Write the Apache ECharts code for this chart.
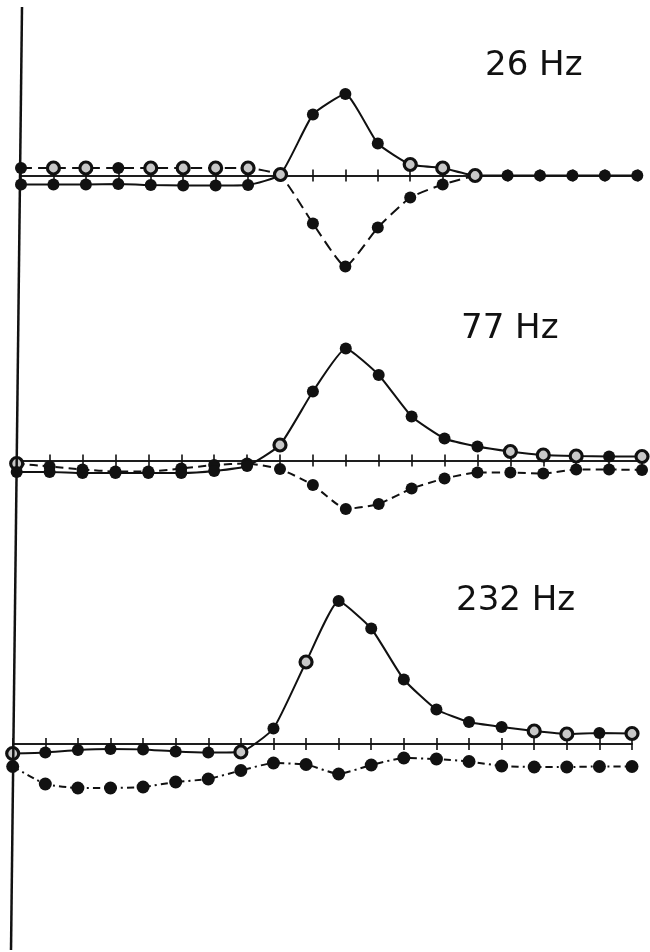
<!DOCTYPE html>
<html>
<head>
<meta charset="utf-8">
<script src="https://cdn.jsdelivr.net/npm/echarts@6/dist/echarts.min.js"></script>
<style>html,body{margin:0;padding:0;background:#fff}#c{width:650px;height:952px}</style>
</head>
<body>
<div id="c"></div>
<script>
// ---- data ----
const categories = ['1','2','3','4','5','6','7','8','9','10','11','12','13','14','15','16','17','18','19','20'];
const panelLabels = ['26 Hz', '77 Hz', '232 Hz'];

const solid26  = [-9, -9, -9, -8.5, -9.5, -10, -10, -9.5, 1, 61, 81.5, 32, 11, 7.5, 0, 0, 0, 0, 0, 0];
const dashed26 = [7.5, 7.5, 7.5, 7.5, 7.5, 7.5, 7.5, 7.5, 0, -48, -91, -52, -22, -9, 0, null, null, null, null, null];

const solid77  = [-11.5, -11.5, -12.5, -12.5, -12.5, -12.5, -10.5, -5.5, 15.5, 69, 112, 85.5, 44, 22, 14, 9, 5.5, 4.5, 4, 4];
const dashed77 = [-3, -6, -9, -11, -11, -8, -4.5, -3, -8.5, -24.5, -48.5, -43.5, -28, -18, -12, -12, -13, -9, -9, -9.5];

const solid232  = [-9.5, -8.5, -6, -5, -5.5, -7.5, -8.5, -8, 15.5, 82, 143, 115.5, 64.5, 34.5, 22, 17, 13, 10, 11, 10.5];
const dashed232 = [-22.5, -40, -44, -44, -43, -38, -35, -26.5, -19, -20.5, -30, -21, -14, -15, -17.5, -22, -23, -23, -22.5, -22.5];

// ---- styling / layout (not data) ----
const panels = [
  {solid: solid26,  dashed: dashed26,  baseline: 175.5, left: 21,   right: 12.7, label: {x: 485, y: 70.5}, dash: [11, 6], dashedSize: 12,
   openSolid: [8, 12, 13, 14], openDashed: [1, 2, 4, 5, 6, 7]},
  {solid: solid77,  dashed: dashed77,  baseline: 460.5, left: 16.7, right: 8,    label: {x: 461, y: 333.5}, dash: [8, 5], dashedSize: 12,
   openSolid: [8, 15, 16, 17, 19], openDashed: [0]},
  {solid: solid232, dashed: dashed232, baseline: 744,   left: 12.7, right: 18,   label: {x: 456, y: 605.5}, dash: [7, 4, 2, 4], dashedSize: 13,
   openSolid: [0, 7, 9, 16, 17, 19], openDashed: []}
];
const Y_MIN = -120, Y_MAX = 160;

function styled(values, openIdx) {
  return values.map((v, i) => {
    if (v === null) return '-';
    if (openIdx.indexOf(i) >= 0) {
      return {value: v, itemStyle: {color: '#c8c8c8', borderColor: '#111', borderWidth: 3.2}};
    }
    return v;
  });
}

const grid = [], xAxis = [], yAxis = [], series = [], graphic = [];
panels.forEach((p, k) => {
  grid.push({left: p.left, right: p.right, top: p.baseline - Y_MAX, height: Y_MAX - Y_MIN, containLabel: false});
  // two identical hidden y axes, so that both x axes can sit on zero
  yAxis.push({type: 'value', gridIndex: k, min: Y_MIN, max: Y_MAX, show: false, splitLine: {show: false}});
  yAxis.push({type: 'value', gridIndex: k, min: Y_MIN, max: Y_MAX, show: false, splitLine: {show: false}});
  ['bottom', 'top'].forEach((pos, j) => {
    xAxis.push({
      type: 'category', gridIndex: k, position: pos, data: categories, boundaryGap: false,
      axisLine: {show: true, onZero: true, onZeroAxisIndex: 2 * k + j, lineStyle: {color: '#111', width: 1.5}},
      axisTick: {show: true, length: 6, lineStyle: {color: '#111', width: 1.6}},
      axisLabel: {show: false}, splitLine: {show: false}
    });
  });
  series.push({
    type: 'line', xAxisIndex: 2 * k, yAxisIndex: 2 * k, data: styled(p.dashed, p.openDashed),
    smooth: 0.15, symbol: 'circle', symbolSize: p.dashedSize, showAllSymbol: true, connectNulls: false,
    lineStyle: {color: '#111', width: 2, type: p.dash},
    itemStyle: {color: '#111'}, z: 3, animation: false
  });
  series.push({
    type: 'line', xAxisIndex: 2 * k, yAxisIndex: 2 * k, data: styled(p.solid, p.openSolid),
    smooth: 0.15, symbol: 'circle', symbolSize: 12, showAllSymbol: true,
    lineStyle: {color: '#111', width: 2},
    itemStyle: {color: '#111'}, z: 4, animation: false
  });
  graphic.push({
    type: 'text', left: p.label.x, top: p.label.y - 21,
    style: {text: panelLabels[k], fill: '#111', font: '34px "DejaVu Sans"'}
  });
});

graphic.push({type: 'line', shape: {x1: 22, y1: 7, x2: 11, y2: 950}, style: {stroke: '#111', lineWidth: 2.5}, z: 10});

const chart = echarts.init(document.getElementById('c'), null, {renderer: 'canvas'});
chart.setOption({animation: false, backgroundColor: '#fff', grid, xAxis, yAxis, series, graphic});
</script>
</body>
</html>
